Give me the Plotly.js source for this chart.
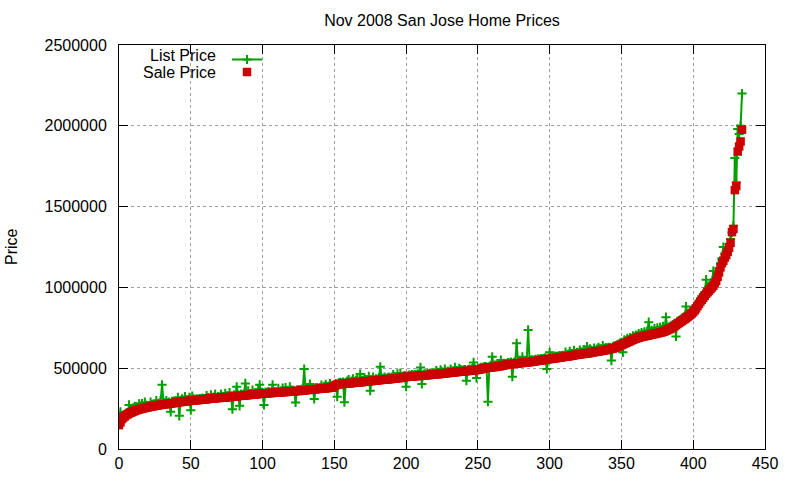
<!DOCTYPE html>
<html>
<head>
<meta charset="utf-8">
<script src="https://cdn.plot.ly/plotly-3.0.1.min.js"></script>
<style>
  html, body { margin: 0; padding: 0; background: #fff; }
  #chart { width: 800px; height: 480px; }
</style>
</head>
<body>
<div id="chart"></div>
<script>
// Sale prices (thousands of $), sorted as in the source plot
const salePriceK = [
  148,165,185,195,202,210,215,220,225,228,
  232,236,240,242,245,247,250,252,254,256,
  258,260,262,264,265,267,268,270,272,273,
  274,276,277,278,279,280,281,283,284,286,
  288,289,290,291,292,293,294,295,296,298,
  299,300,300,301,302,303,304,305,305,306,
  307,308,310,312,312,313,314,315,315,316,
  316,317,318,319,319,320,321,322,323,324,
  325,326,327,328,329,330,330,331,332,333,
  334,335,335,336,337,338,339,340,341,342,
  343,343,344,345,345,346,347,347,348,349,
  349,350,350,351,352,352,353,354,354,355,
  356,356,357,358,359,359,360,361,362,363,
  364,365,366,366,367,368,369,370,371,372,
  373,374,375,375,376,377,378,379,380,381,
  390,396,398,400,402,402,403,404,404,405,
  406,407,408,409,410,411,412,413,413,414,
  415,416,417,418,419,420,421,422,423,424,
  425,426,427,428,429,429,430,431,432,433,
  434,435,436,437,438,439,440,441,443,445,
  446,447,447,448,449,450,451,451,452,453,
  453,454,455,456,456,457,458,459,460,461,
  462,463,463,464,465,466,467,468,469,470,
  471,472,473,474,475,476,477,478,479,480,
  481,482,482,483,484,485,486,487,488,489,
  490,492,494,496,498,500,502,503,504,505,
  506,507,508,509,510,512,514,516,518,520,
  522,523,524,525,526,527,528,529,530,531,
  532,533,534,535,536,537,538,539,541,542,
  543,545,546,547,548,550,551,552,554,556,
  557,558,560,561,562,563,565,566,567,569,
  570,571,572,573,575,577,578,580,582,584,
  585,586,587,588,589,590,591,592,595,597,
  598,600,601,602,604,606,607,608,610,612,
  615,617,618,620,622,625,628,632,636,640,
  644,648,652,656,660,664,668,672,676,680,
  683,686,689,692,694,696,698,700,702,704,
  706,708,710,712,714,716,718,720,722,725,
  728,732,736,740,744,748,754,760,767,774,
  780,786,792,798,804,810,817,824,831,839,
  847,858,870,884,898,912,924,936,948,960,
  970,980,990,1000,1010,1025,1040,1065,1093,1124,
  1150,1165,1185,1200,1220,1245,1276,1342,1362,1602,
  1627,1841,1872,1903,1976
];

// List prices (thousands of $) for the same homes
const listPriceK = [
  150,230,200,205,215,222,225,273,240,238,
  255,265,262,250,280,258,281,262,290,270,
  265,268,290,275,272,278,300,278,285,300,
  398,290,285,300,286,290,230,295,292,290,
  295,320,205,298,310,296,325,305,300,320,
  240,327,310,305,310,308,312,310,315,312,
  312,330,318,316,335,318,322,340,318,325,
  322,340,326,325,345,326,328,350,328,246,
  335,330,385,335,267,340,336,340,406,338,
  360,340,342,365,340,348,345,370,397,350,
  350,273,352,350,355,352,350,397,355,352,
  355,375,356,360,377,358,380,358,362,385,
  365,362,360,288,365,368,365,370,368,495,
  370,372,375,402,370,375,309,378,380,376,
  380,395,382,388,400,385,390,405,388,390,
  395,405,323,410,412,408,415,290,412,420,
  430,412,420,435,418,425,440,418,464,420,
  425,440,430,425,450,360,430,445,428,435,
  432,440,509,435,438,445,436,440,445,438,
  445,460,448,445,465,446,470,448,452,455,
  385,452,458,455,460,456,462,458,465,460,
  505,402,462,465,460,468,465,470,466,472,
  470,485,475,472,490,478,475,495,475,482,
  478,495,480,482,505,485,482,500,492,486,
  490,492,422,490,495,492,498,536,495,439,
  498,500,505,503,508,510,508,292,512,515,
  571,515,520,518,522,525,551,525,530,528,
  530,535,532,538,447,535,540,654,538,545,
  540,571,545,542,548,737,545,550,552,548,
  555,552,558,555,560,558,562,565,495,562,
  598,565,570,568,575,572,575,578,575,580,
  578,600,580,588,605,590,588,610,590,598,
  595,612,600,598,615,600,634,605,620,610,
  608,625,610,618,630,620,618,640,622,628,
  625,630,628,547,632,638,640,645,650,655,
  660,598,675,668,685,675,690,685,700,692,
  705,700,715,705,720,710,725,715,730,785,
  718,735,725,745,725,750,732,755,740,760,
  742,816,750,755,760,765,770,778,696,790,
  795,800,810,815,820,882,835,840,850,858,
  865,875,890,905,915,930,945,958,970,1048,
  995,1005,1015,1030,1101,1050,1065,1090,1120,1150,
  1180,1250,1210,1225,1230,1270,1300,1340,1380,1800,
  1650,1980,1950,2000,2200
];

const xTicks = [0, 50, 100, 150, 200, 250, 300, 350, 400, 450];
const yTicks = [0, 500000, 1000000, 1500000, 2000000, 2500000];

const GREEN = '#00a000';
const RED = '#cc0000';
const FONT = 'Liberation Sans, Arial, sans-serif';

const homeIndex = salePriceK.map((_, i) => i);
const toDollars = v => v * 1000;

// pixel helpers for placing the key (plot area: x 119..765, y 45.5..448.5)
const px = p => (p - 119) / 646;
const py = p => (448.5 - p) / 403;

const traces = [
  {
    x: homeIndex,
    y: listPriceK.map(toDollars),
    name: ' ',
    legend: 'legend',
    type: 'scatter',
    mode: 'lines+markers',
    line: { color: GREEN, width: 2 },
    marker: { symbol: 'cross-thin-open', size: 6.5, color: GREEN, line: { color: GREEN, width: 2 } }
  },
  {
    x: homeIndex,
    y: salePriceK.map(toDollars),
    name: ' ',
    legend: 'legend2',
    type: 'scatter',
    mode: 'markers',
    marker: { symbol: 'square', size: 8.5, color: RED, line: { width: 0 } }
  }
];

const axisCommon = {
  showline: true,
  linecolor: '#000',
  linewidth: 1,
  mirror: 'ticks',
  ticks: 'inside',
  ticklen: 9,
  tickcolor: '#000',
  showgrid: true,
  gridcolor: '#a0a0a0',
  griddash: 'dot',
  gridwidth: 1,
  zeroline: false,
  tickfont: { family: FONT, size: 16, color: '#000' }
};

const keyCommon = {
  xanchor: 'left',
  yanchor: 'top',
  bgcolor: 'rgba(0,0,0,0)',
  borderwidth: 0,
  font: { family: FONT, size: 10 },
  itemclick: false
};

const keyText = {
  xref: 'paper', yref: 'paper',
  xanchor: 'right', yanchor: 'middle', showarrow: false,
  borderpad: 0,
  font: { family: FONT, size: 16, color: '#000' }
};

const layout = {
  width: 800,
  height: 480,
  margin: { l: 119, r: 35, t: 45, b: 31, pad: 0 },
  paper_bgcolor: '#fff',
  plot_bgcolor: '#fff',
  font: { family: FONT, size: 16, color: '#000' },
  title: {
    text: 'Nov 2008 San Jose Home Prices',
    font: { family: FONT, size: 16, color: '#000' },
    x: 0.5, xref: 'paper', xanchor: 'center',
    y: 1 - 20 / 480, yref: 'container', yanchor: 'middle'
  },
  xaxis: Object.assign({}, axisCommon, {
    range: [0, 450],
    tickvals: xTicks,
    ticklabelstandoff: 0
  }),
  yaxis: Object.assign({}, axisCommon, {
    range: [0, 2500000],
    tickvals: yTicks,
    tickformat: 'd',
    ticklabelstandoff: 8
  }),
  showlegend: true,
  legend: Object.assign({}, keyCommon, { x: px(227), y: py(45.5) }),
  legend2: Object.assign({}, keyCommon, { x: px(227), y: py(58) }),
  annotations: [
    Object.assign({}, keyText, { text: 'List Price', x: px(217), y: py(55.5) }),
    Object.assign({}, keyText, { text: 'Sale Price', x: px(217), y: py(72.5) }),
    {
      text: 'Price', xref: 'paper', yref: 'paper',
      x: px(11), y: 0.5, textangle: -90,
      xanchor: 'center', yanchor: 'middle', showarrow: false,
      font: { family: FONT, size: 16, color: '#000' }
    }
  ]
};

Plotly.newPlot('chart', traces, layout, { displayModeBar: false, staticPlot: true });
</script>
</body>
</html>
